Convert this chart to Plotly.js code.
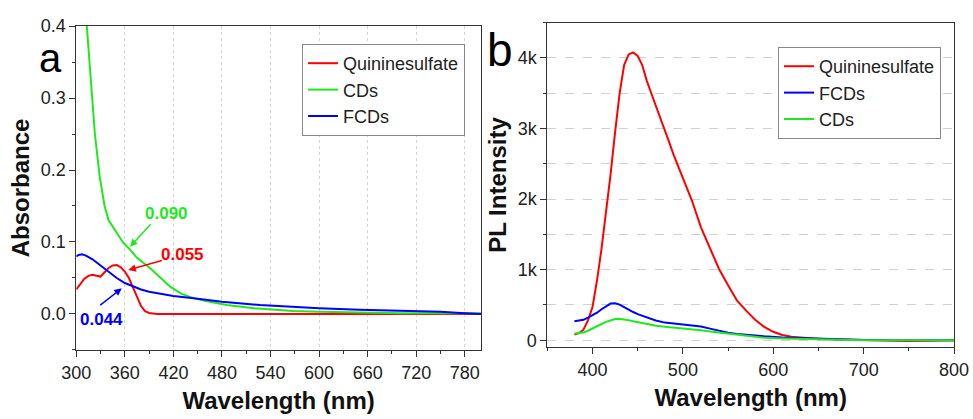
<!DOCTYPE html>
<html>
<head>
<meta charset="utf-8">
<script src="https://cdn.plot.ly/plotly-3.0.1.min.js"></script>
<style>html,body{margin:0;padding:0;background:#fff}#chart{width:973px;height:419px}</style>
</head>
<body>
<div id="chart"></div>
<script>
// Panel a: absorbance
const absQuinineX = [300,305,310,315,320,325,330,335,340,345,350,355,360,365,370,375,380,385,390,395,400,450,500,600,700,800];
const absQuinineY = [0.034,0.042,0.049,0.053,0.0545,0.053,0.052,0.058,0.064,0.0675,0.068,0.065,0.059,0.050,0.038,0.024,0.011,0.004,0.0015,0.0005,0,0,0,0,0,0];
const absCDsX = [311,313,316,319,323,329,335,340,350,358,366,375,391,400,416,430,445,460,486,520,568,600,700,800];
const absCDsY = [0.43,0.40,0.35,0.30,0.25,0.19,0.15,0.13,0.112,0.099,0.090,0.078,0.064,0.055,0.038,0.028,0.022,0.018,0.0125,0.008,0.004,0.003,0.001,0.001];
const absFCDsX = [300,303,307,312,320,330,340,350,360,370,380,390,400,420,445,480,527,560,600,650,700,750,780,800];
const absFCDsY = [0.080,0.082,0.083,0.081,0.076,0.067,0.058,0.050,0.043,0.038,0.034,0.031,0.029,0.025,0.022,0.017,0.0125,0.010,0.008,0.006,0.005,0.003,0.001,0.0];

// Panel b: PL intensity
const plQuinineX = [380,385,390,395,400,405,410,415,420,425,430,435,440,445,450,455,460,465,470,475,480,485,490,495,500,510,520,530,540,550,560,570,580,590,600,610,620,640,660,700,750,800];
const plQuinineY = [80,100,150,280,470,850,1300,1800,2350,2950,3500,3900,4050,4080,4030,3900,3680,3500,3330,3150,2980,2800,2620,2460,2300,1980,1600,1300,1010,780,560,420,290,190,120,75,50,30,15,5,-10,0];
const plFCDsX = [380,385,390,395,400,405,410,415,420,425,430,435,440,445,450,460,470,480,490,500,510,520,530,540,550,560,575,590,610,630,660,700,750,800];
const plFCDsY = [270,275,290,320,355,390,440,480,520,525,505,470,430,400,370,320,280,250,235,225,210,195,165,130,105,90,70,55,40,30,15,5,0,0];
const plCDsX = [380,390,395,400,405,410,415,420,425,430,435,440,445,450,460,470,480,490,500,510,520,530,540,550,560,575,590,610,640,680,700,800];
const plCDsY = [95,110,135,170,200,230,260,285,300,305,300,285,270,255,225,205,190,180,170,155,140,125,110,90,70,50,35,25,15,5,0,0];

const RED = '#ff0000', GREEN = '#1fe81f', BLUE = '#0000ff';
const FONT = 'Liberation Sans, Arial, sans-serif';

const traces = [
  {x: absQuinineX, y: absQuinineY, name: 'Quininesulfate', mode: 'lines', line: {color: RED, width: 2}, xaxis: 'x', yaxis: 'y', legend: 'legend'},
  {x: absCDsX, y: absCDsY, name: 'CDs', mode: 'lines', line: {color: GREEN, width: 2}, xaxis: 'x', yaxis: 'y', legend: 'legend'},
  {x: absFCDsX, y: absFCDsY, name: 'FCDs', mode: 'lines', line: {color: BLUE, width: 2}, xaxis: 'x', yaxis: 'y', legend: 'legend'},
  {x: plQuinineX, y: plQuinineY, name: 'Quininesulfate', mode: 'lines', line: {color: RED, width: 2}, xaxis: 'x2', yaxis: 'y2', legend: 'legend2'},
  {x: plFCDsX, y: plFCDsY, name: 'FCDs', mode: 'lines', line: {color: BLUE, width: 2}, xaxis: 'x2', yaxis: 'y2', legend: 'legend2'},
  {x: plCDsX, y: plCDsY, name: 'CDs', mode: 'lines', line: {color: GREEN, width: 2}, xaxis: 'x2', yaxis: 'y2', legend: 'legend2'}
];

const axisCommon = {
  showline: true, mirror: true, linecolor: '#333', linewidth: 1,
  ticks: 'outside', ticklen: 6, tickcolor: '#333', zeroline: false,
  tickfont: {size: 18, color: '#222', family: FONT}
};
const titleFont = {size: 24, color: '#111', family: FONT, weight: 'bold'};

const layout = {
  width: 973, height: 419,
  margin: {l: 0, r: 0, t: 0, b: 0},
  paper_bgcolor: '#fff', plot_bgcolor: '#fff',
  font: {family: FONT},
  xaxis: Object.assign({}, axisCommon, {
    domain: [0.0784, 0.4943], range: [300, 800], tickmode: 'linear', tick0: 300, dtick: 60,
    showgrid: true, gridcolor: '#d4d4d4', griddash: 'dot', gridwidth: 1,
    minor: {dtick: 30, ticks: 'outside', ticklen: 3, tickcolor: '#333', showgrid: false},
    title: {text: 'Wavelength (nm)', font: titleFont, standoff: 10}
  }),
  yaxis: Object.assign({}, axisCommon, {
    domain: [0.1647, 0.9379], range: [-0.05, 0.4], tickmode: 'linear', tick0: 0, dtick: 0.1, tickformat: '.1f',
    showgrid: false,
    minor: {dtick: 0.05, ticks: 'outside', ticklen: 3, tickcolor: '#333', showgrid: false},
    title: {text: 'Absorbance', font: titleFont, standoff: 4}
  }),
  xaxis2: Object.assign({}, axisCommon, {
    anchor: 'y2', domain: [0.5625, 0.9805], range: [350, 800], tickmode: 'linear', tick0: 0, dtick: 100,
    showgrid: false,
    minor: {dtick: 50, ticks: 'outside', ticklen: 3, tickcolor: '#333', showgrid: false},
    title: {text: 'Wavelength (nm)', font: titleFont, standoff: 10}
  }),
  yaxis2: Object.assign({}, axisCommon, {
    anchor: 'x2', domain: [0.1711, 0.9458], range: [-100, 4500], tickmode: 'linear', tick0: 0, dtick: 1000, tickformat: '~s',
    showgrid: true, gridcolor: '#d0d0d0', griddash: 'dash', gridwidth: 1,
    minor: {dtick: 500, ticks: 'outside', ticklen: 3, tickcolor: '#333', showgrid: true, gridcolor: '#d0d0d0', griddash: 'dash'},
    title: {text: 'PL Intensity', font: titleFont, standoff: 4}
  }),
  legend: {
    x: 0.3104, y: 0.895, xanchor: 'left', yanchor: 'top',
    bordercolor: '#888', borderwidth: 1, bgcolor: '#fff',
    font: {size: 18, color: '#222', family: FONT}
  },
  legend2: {
    x: 0.7996, y: 0.8878, xanchor: 'left', yanchor: 'top',
    bordercolor: '#888', borderwidth: 1, bgcolor: '#fff',
    font: {size: 18, color: '#222', family: FONT}
  },
  annotations: [
    {xref: 'paper', yref: 'paper', x: 0.0514, y: 0.862, text: 'a', showarrow: false, font: {size: 40, color: '#000', family: FONT}, xanchor: 'center', yanchor: 'middle'},
    {xref: 'paper', yref: 'paper', x: 0.5139, y: 0.8807, text: 'b', showarrow: false, font: {size: 46, color: '#000', family: FONT}, xanchor: 'center', yanchor: 'middle'},
    {xref: 'x', yref: 'y', x: 412, y: 0.139, text: '0.090', showarrow: false, font: {size: 17, color: GREEN, family: FONT, weight: 'bold'}},
    {xref: 'x', yref: 'y', x: 431.6, y: 0.082, text: '0.055', showarrow: false, font: {size: 17, color: RED, family: FONT, weight: 'bold'}},
    {xref: 'x', yref: 'y', x: 331.4, y: -0.0083, text: '0.044', showarrow: false, font: {size: 17, color: BLUE, family: FONT, weight: 'bold'}},
    {xref: 'x', yref: 'y', x: 366.4, y: 0.0935, text: '', showarrow: true, ax: 22, ay: -24, arrowhead: 2, arrowsize: 1, arrowwidth: 1.5, arrowcolor: GREEN},
    {xref: 'x', yref: 'y', x: 364.3, y: 0.061, text: '', showarrow: true, ax: 35, ay: -10, arrowhead: 2, arrowsize: 1, arrowwidth: 1.5, arrowcolor: RED},
    {xref: 'x', yref: 'y', x: 356.2, y: 0.0357, text: '', showarrow: true, ax: -23, ay: 18, arrowhead: 2, arrowsize: 1, arrowwidth: 1.5, arrowcolor: BLUE}
  ]
};

Plotly.newPlot('chart', traces, layout, {displayModeBar: false, staticPlot: true});
</script>
</body>
</html>
